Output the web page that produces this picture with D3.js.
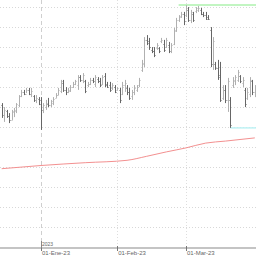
<!DOCTYPE html>
<html>
<head>
<meta charset="utf-8">
<script src="https://cdn.jsdelivr.net/npm/d3@7"></script>
<style>
  html, body { margin: 0; padding: 0; background: #fff; }
  svg { display: block; }
</style>
</head>
<body>
<div id="chart"></div>
<script>
// daily bars, 16-Dic-22 .. 29-Mar-23
const firstDay = new Date(2022, 11, 16);
const lastDay = new Date(2023, 2, 30);

const highs = [
  9.61, 9.51, 9.44, 9.36, 9.44, 9.49, 9.61, 9.81, 9.94, 9.94, 9.99, 9.99, 9.99, 9.81, 9.81, 9.76,
  9.76, 9.61, 9.69, 9.74, 9.69, 9.76, 9.86, 9.99, 10.19, 10.19, 10.01, 9.99, 10.06, 10.14, 10.19, 10.31,
  10.31, 10.36, 10.19, 10.14, 10.24, 10.24, 10.31, 10.26, 10.24, 10.31, 10.36, 10.14, 10.14, 10.11, 10.06,
  10.01, 9.99, 10.14, 10.19, 10.06, 9.99, 9.94, 10.06, 10.06, 10.24, 10.69, 11.26, 11.31, 11.24, 11.01,
  11.01, 11.11, 11.01, 11.24, 11.19, 11.24, 11.14, 11.11, 11.49, 11.74, 11.81, 11.89, 11.89,
  12.06, 12.01, 11.94, 11.89, 12.01, 12.04, 11.99, 11.89, 11.89, 11.81, 11.51, 11.26, 10.64, 10.69, 10.64,
  10.06, 10.06, 10.24, 9.76, 10.26, 10.31, 10.44, 10.31, 10.26, 9.99, 9.99, 10.26, 10.19, 10.06
];
const lows = [
  9.24, 9.14, 9.24, 9.11, 9.19, 9.26, 9.36, 9.51, 9.76, 9.81, 9.86, 9.81, 9.76, 9.64, 9.61, 9.56,
  8.94, 9.36, 9.44, 9.51, 9.51, 9.56, 9.74, 9.81, 9.86, 9.89, 9.81, 9.86, 9.89, 9.99, 10.06, 9.94,
  10.14, 10.11, 9.86, 10.01, 10.06, 10.11, 10.01, 10.11, 10.01, 10.06, 10.01, 9.99, 9.89, 9.94, 9.86,
  9.94, 9.61, 9.81, 9.89, 9.81, 9.69, 9.69, 9.81, 9.89, 10.01, 10.39, 10.51, 11.06, 10.94, 10.86,
  10.76, 10.94, 10.86, 11.11, 10.89, 10.99, 10.86, 10.86, 11.06, 11.39, 11.64, 11.74, 11.56,
  11.76, 11.64, 11.61, 11.64, 11.86, 11.89, 11.81, 11.76, 11.69, 11.69, 10.51, 10.44, 10.44, 10.19, 9.64,
  9.69, 9.61, 9.39, 8.99, 9.99, 10.06, 10.14, 10.11, 10.01, 9.51, 9.69, 9.76, 9.81, 9.76
];
const opens = [
  9.55, 9.30, 9.42, 9.28, 9.20, 9.38, 9.42, 9.55, 9.78, 9.88, 9.85, 9.95, 9.85, 9.78, 9.68, 9.72,
  9.70, 9.45, 9.50, 9.60, 9.55, 9.62, 9.75, 9.82, 9.92, 10.12, 9.95, 9.90, 9.92, 10.02, 10.10, 10.05,
  10.25, 10.20, 10.15, 10.05, 10.10, 10.18, 10.10, 10.22, 10.15, 10.10, 10.28, 10.10, 10.05, 9.98, 10.02,
  9.95, 9.95, 9.85, 10.05, 10.00, 9.90, 9.78, 9.88, 9.95, 10.05, 10.45, 10.60, 11.20, 11.15, 10.95,
  10.90, 10.98, 10.98, 11.15, 11.10, 11.00, 11.05, 10.92, 11.10, 11.45, 11.68, 11.78, 11.85,
  11.80, 11.95, 11.70, 11.85, 11.90, 11.95, 11.95, 11.85, 11.82, 11.75, 11.45, 10.60, 10.60, 10.50, 10.30,
  9.75, 9.95, 9.70, 9.70, 10.05, 10.15, 10.20, 10.28, 10.12, 9.95, 9.75, 9.85, 10.15, 9.90
];
const closes = [
  9.30, 9.45, 9.28, 9.20, 9.40, 9.45, 9.58, 9.78, 9.90, 9.84, 9.95, 9.85, 9.92, 9.68, 9.75, 9.60,
  9.45, 9.55, 9.62, 9.55, 9.65, 9.72, 9.82, 9.95, 10.15, 9.95, 9.88, 9.95, 10.02, 10.10, 10.15, 10.25,
  10.18, 10.30, 9.92, 10.10, 10.20, 10.15, 10.25, 10.15, 10.05, 10.25, 10.05, 10.02, 9.95, 10.05, 9.90,
  9.98, 9.70, 10.05, 10.12, 9.88, 9.75, 9.88, 10.00, 10.02, 10.20, 10.62, 11.20, 11.12, 11.00, 10.92,
  10.80, 11.05, 10.90, 11.20, 10.95, 11.18, 10.92, 11.05, 11.42, 11.70, 11.75, 11.85, 11.65,
  12.00, 11.70, 11.88, 11.70, 11.98, 12.00, 11.85, 11.80, 11.72, 11.72, 10.60, 11.15, 10.50, 10.25, 9.70,
  9.95, 9.68, 10.15, 9.05, 10.20, 10.25, 10.38, 10.15, 10.20, 9.60, 9.90, 10.20, 9.90, 10.00
];

// long moving average (red)
const maDates = ["2022-12-16", "2023-01-01", "2023-01-19", "2023-02-05", "2023-02-13", "2023-02-21",
  "2023-03-01", "2023-03-09", "2023-03-17", "2023-03-29"];
const maValues = [7.97, 8.05, 8.12, 8.18, 8.28, 8.39, 8.49, 8.61, 8.66, 8.74];

// max / min reference lines start here
const resistanceFrom = "2023-02-26";
const supportFrom = "2023-03-19";

const priceTicks = d3.range(6.5, 12.01, 0.5);
const monthTicks = [new Date(2023, 0, 1), new Date(2023, 1, 1), new Date(2023, 2, 1)];
const monthNames = ["Ene", "Feb", "Mar", "Abr", "May", "Jun", "Jul", "Ago", "Sep", "Oct", "Nov", "Dic"];

const width = 256;
const height = 256;
const axisY = 248;

const days = d3.timeDay.range(firstDay, lastDay);
const bars = days.map((d, i) => ({
  date: d, high: highs[i], low: lows[i], open: opens[i], close: closes[i]
}));

const parse = d3.timeParse("%Y-%m-%d");

const x = d3.scaleTime()
  .domain([new Date(2023, 0, 1), new Date(2023, 2, 1)])
  .range([41, 186]);

const y = d3.scaleLinear()
  .domain([6, 12])
  .range([247.5, 7.5]);

const px = v => Math.round(v) + 0.5;

const svg = d3.select('#chart')
  .append('svg')
  .attr('width', width)
  .attr('height', height);

// horizontal grid
svg.append('g')
  .selectAll('line')
  .data(priceTicks)
  .enter()
  .append('line')
  .attr('x1', 0)
  .attr('x2', width)
  .attr('y1', d => px(y(d) - 0.5))
  .attr('y2', d => px(y(d) - 0.5))
  .attr('stroke', '#d8d8d8')
  .attr('stroke-dasharray', '1,2');

// vertical grid: year start dashed, months dotted
svg.append('g')
  .selectAll('line')
  .data(monthTicks)
  .enter()
  .append('line')
  .attr('x1', d => px(x(d)))
  .attr('x2', d => px(x(d)))
  .attr('y1', 0)
  .attr('y2', axisY)
  .attr('stroke', d => d.getMonth() === 0 ? '#cfcfcf' : '#dedede')
  .attr('stroke-dasharray', d => d.getMonth() === 0 ? '4,3' : '1,2');

// moving average
const maLine = d3.line()
  .x(d => x(d.date))
  .y(d => y(d.value))
  .curve(d3.curveMonotoneX);

svg.append('path')
  .datum(maDates.map((d, i) => ({ date: parse(d), value: maValues[i] })))
  .attr('fill', 'none')
  .attr('stroke', '#f39090')
  .attr('stroke-width', 1)
  .attr('d', maLine);

// reference levels
const recent = bars.filter(b => b.date >= new Date(2023, 1, 1));
const maxHigh = d3.max(recent, b => b.high);
const minLow = d3.min(recent, b => b.low);

svg.append('line')
  .attr('x1', x(parse(resistanceFrom)))
  .attr('x2', width)
  .attr('y1', y(maxHigh))
  .attr('y2', y(maxHigh))
  .attr('stroke', '#aef2ae')
  .attr('stroke-width', 1.5);

svg.append('line')
  .attr('x1', x(parse(supportFrom)))
  .attr('x2', width)
  .attr('y1', y(minLow))
  .attr('y2', y(minLow))
  .attr('stroke', '#bff3f5')
  .attr('stroke-width', 1.5);

// OHLC bars
const g = svg.append('g')
  .selectAll('g')
  .data(bars)
  .enter()
  .append('g')
  .attr('stroke', d => d.close >= d.open ? '#b0b0b0' : '#666');

g.append('line')
  .attr('x1', d => px(x(d.date)))
  .attr('x2', d => px(x(d.date)))
  .attr('y1', d => y(d.high))
  .attr('y2', d => y(d.low));

g.append('line')
  .attr('x1', d => px(x(d.date)) - 1)
  .attr('x2', d => px(x(d.date)))
  .attr('y1', d => px(y(d.open)))
  .attr('y2', d => px(y(d.open)));

g.append('line')
  .attr('x1', d => px(x(d.date)))
  .attr('x2', d => px(x(d.date)) + 1)
  .attr('y1', d => px(y(d.close)))
  .attr('y2', d => px(y(d.close)));

// bottom axis band
svg.append('rect')
  .attr('x', 0)
  .attr('y', axisY - 1)
  .attr('width', width)
  .attr('height', 2)
  .attr('fill', '#c4c4c4');

svg.append('g')
  .selectAll('line')
  .data(monthTicks)
  .enter()
  .append('line')
  .attr('x1', d => px(x(d)))
  .attr('x2', d => px(x(d)))
  .attr('y1', axisY - 2)
  .attr('y2', axisY + 3)
  .attr('stroke', '#777');

svg.append('g')
  .selectAll('text')
  .data(monthTicks)
  .enter()
  .append('text')
  .attr('x', d => x(d) + 1)
  .attr('y', 255)
  .attr('font-family', 'Liberation Sans, Arial, sans-serif')
  .attr('font-size', 6)
  .attr('fill', '#666')
  .text(d => d3.timeFormat('%d')(d) + '-' + monthNames[d.getMonth()] + '-' + d3.timeFormat('%y')(d));

// year marker
const yearStart = monthTicks[0];
svg.append('line')
  .attr('x1', px(x(yearStart)))
  .attr('x2', px(x(yearStart)))
  .attr('y1', 241)
  .attr('y2', axisY)
  .attr('stroke', '#888');

svg.append('text')
  .attr('x', x(yearStart) + 1)
  .attr('y', 245.5)
  .attr('font-family', 'Liberation Sans, Arial, sans-serif')
  .attr('font-size', 5)
  .attr('fill', '#666')
  .text(yearStart.getFullYear());
</script>
</body>
</html>
